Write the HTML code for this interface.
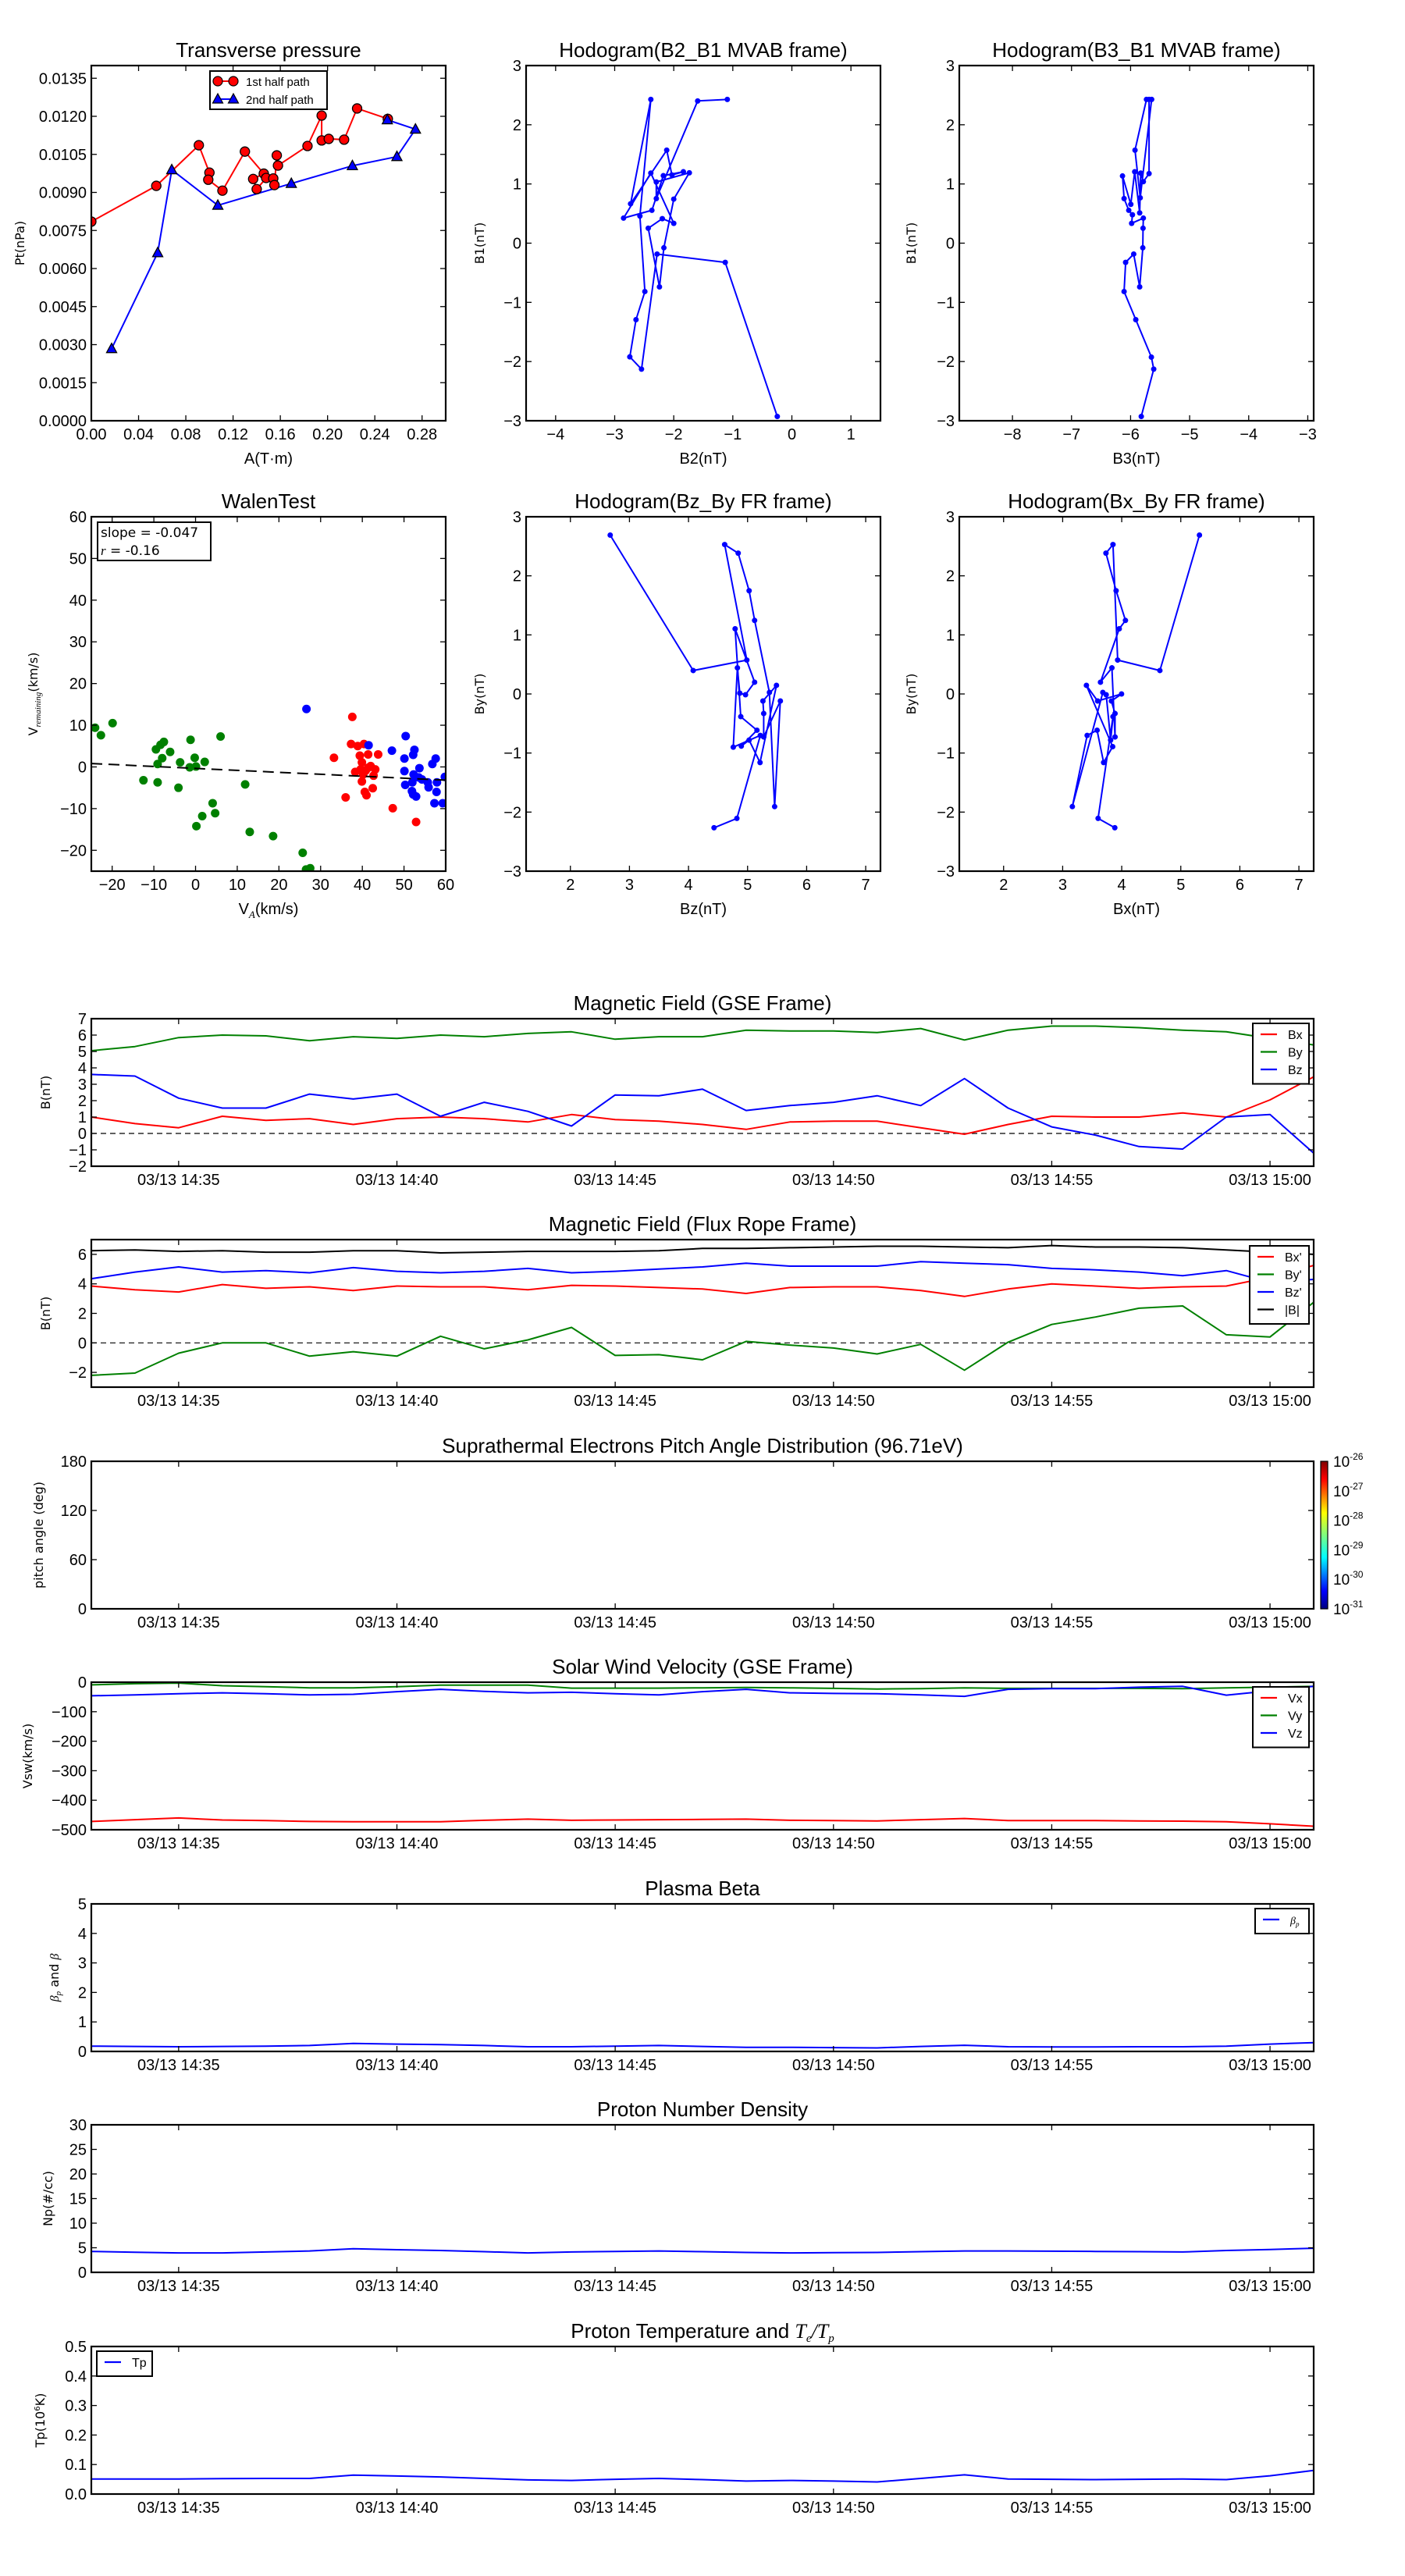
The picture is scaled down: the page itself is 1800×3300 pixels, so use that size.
<!DOCTYPE html>
<html><head><meta charset="utf-8"><title>Flux rope analysis</title>
<style>
html,body{margin:0;padding:0;background:#fff;}
svg{display:block;}
.nar{font-family:"Liberation Sans Narrow","Liberation Sans",sans-serif;}
.reg{font-family:"DejaVu Sans","Liberation Sans",sans-serif;}
</style></head>
<body>
<svg id="fig" xmlns="http://www.w3.org/2000/svg" width="1800" height="3300" viewBox="0 0 1800 3300">
<rect x="0" y="0" width="1800" height="3300" fill="#fff"/>
<defs>
<linearGradient id="jet" x1="0" y1="1" x2="0" y2="0">
<stop offset="0" stop-color="#00007f"/><stop offset="0.12" stop-color="#0000ff"/><stop offset="0.35" stop-color="#00ffff"/><stop offset="0.5" stop-color="#7fff7f"/><stop offset="0.65" stop-color="#ffff00"/><stop offset="0.88" stop-color="#ff0000"/><stop offset="1" stop-color="#7f0000"/>
</linearGradient>
</defs>
</svg>
<script>
// ---------- Transverse pressure ----------
const ptRedA = [0.000,0.055,0.091,0.100,0.099,0.111,0.130,0.146,0.137,0.140,0.148,0.154,0.155,0.157,0.158,0.183,0.195,0.195,0.201,0.214,0.225,0.251];
const ptRedP = [0.00785,0.00926,0.01086,0.00978,0.00950,0.00907,0.01061,0.00974,0.00953,0.00913,0.00957,0.00955,0.00929,0.01046,0.01006,0.01083,0.01203,0.01105,0.01111,0.01108,0.01231,0.01190];
const ptBlueA = [0.0172,0.0562,0.0681,0.1071,0.1693,0.2210,0.2587,0.2744,0.2506];
const ptBlueP = [0.00284,0.00662,0.00989,0.00849,0.00935,0.01005,0.01041,0.01149,0.01186];
const ptXTicks = [0,0.04,0.08,0.12,0.16,0.20,0.24,0.28];
const ptXLabels = ["0.00","0.04","0.08","0.12","0.16","0.20","0.24","0.28"];
const ptYTicks = [0,0.0015,0.003,0.0045,0.006,0.0075,0.009,0.0105,0.012,0.0135];
const ptYLabels = ["0.0000","0.0015","0.0030","0.0045","0.0060","0.0075","0.0090","0.0105","0.0120","0.0135"];
// ---------- Hodogram B2-B1 ----------
const h1B2 = [-0.247,-1.128,-2.282,-2.546,-2.744,-2.639,-2.489,-2.573,-2.388,-2.731,-2.119,-2.031,-1.837,-2.176,-2.370,-2.850,-2.388,-2.000,-2.194,-2.432,-2.242,-2.167,-2.000,-1.736,-2.295,-2.295,-1.595,-1.093];
const h1B1 = [-2.928,-0.325,-0.184,-2.128,-1.921,-1.292,-0.817,0.458,2.428,0.665,1.571,1.153,1.206,1.140,0.555,0.423,1.184,0.335,0.414,0.252,-0.738,-0.078,0.744,1.188,1.034,0.753,2.402,2.428];
// ---------- Hodogram B3-B1 ----------
const h2B3 = [-5.819,-5.608,-5.648,-5.912,-6.110,-6.084,-5.947,-5.846,-5.793,-5.789,-5.784,-5.982,-5.969,-6.031,-6.110,-6.137,-5.996,-5.930,-5.846,-5.828,-5.784,-5.687,-5.687,-5.731,-5.925,-5.837,-5.643];
const h2B1 = [-2.928,-2.128,-1.925,-1.292,-0.817,-0.325,-0.184,-0.738,-0.078,0.252,0.423,0.335,0.480,0.555,0.753,1.135,0.656,1.206,0.511,1.184,1.039,1.175,2.428,2.428,1.571,0.766,2.428];
// ---------- Walen test ----------
const walGreenX = [-24.1,-22.7,-19.9,-12.5,-9.5,-9.1,-9.1,-8.4,-7.6,-8.0,-6.1,-4.1,-3.7,-1.4,-1.2,-0.2,0.1,0.2,1.6,2.2,4.1,4.7,6.0,11.9,13.0,18.6,25.7,26.5,27.5];
const walGreenY = [9.4,7.6,10.5,-3.2,4.2,0.7,-3.7,5.3,6.0,2.1,3.6,-5.0,1.1,-0.1,6.5,2.2,0.1,-14.2,-11.8,1.2,-8.7,-11.1,7.3,-4.2,-15.6,-16.6,-20.6,-24.6,-24.3];
const walRedX = [37.6,37.3,38.9,40.4,33.2,39.4,41.4,43.8,39.9,42.0,43.1,38.3,40.8,40.2,42.7,39.9,42.5,40.6,41.0,36.0,47.3,52.9,41.4,39.6];
const walRedY = [12.0,5.5,5.0,5.5,2.2,2.7,3.0,3.0,1.1,0.2,-0.6,-1.2,-0.9,-1.8,-2.1,-3.5,-5.1,-6.0,-6.8,-7.3,-9.9,-13.2,-0.2,-0.6];
const walBlueX = [26.6,41.5,47.1,50.4,50.1,52.5,52.2,57.6,56.8,53.7,50.1,52.3,53.5,54.3,52.0,50.3,55.7,57.9,59.8,55.9,57.8,51.9,52.2,52.9,57.3,59.3];
const walBlueY = [13.9,5.2,3.9,7.4,2.0,4.1,2.9,2.0,0.7,-0.3,-1.0,-1.8,-2.5,-3.0,-3.7,-4.3,-3.7,-3.7,-2.4,-4.9,-6.0,-5.8,-6.6,-7.1,-8.7,-8.7];
const walSlope = [-0.047];
const walIntercept = [-0.35];
const walXTicks = [-20,-10,0,10,20,30,40,50,60];
const walXLabels = ["\u221220","\u221210","0","10","20","30","40","50","60"];
const walYTicks = [-20,-10,0,10,20,30,40,50,60];
const walYLabels = ["\u221220","\u221210","0","10","20","30","40","50","60"];
// ---------- Hodogram Bz-By ----------
const h3Bz = [2.674,4.079,4.987,4.612,4.841,5.026,5.119,5.370,5.458,5.555,5.273,5.273,5.260,5.489,5.211,5.026,4.894,5.159,4.885,4.789,5.119,4.965,4.868,4.828,4.758,5.216,4.819,4.432];
const h3By = [2.689,0.397,0.574,2.530,2.384,1.748,1.245,0.026,-1.907,-0.119,-0.728,-0.331,-0.119,0.146,-1.161,-0.781,-0.883,-0.614,-0.384,1.104,0.199,-0.013,0.013,0.442,-0.901,-0.702,-2.106,-2.265];
// ---------- Hodogram Bx-By ----------
const h4Bx = [5.316,4.646,3.931,3.852,3.733,3.905,4.063,3.958,3.640,3.834,3.887,3.887,3.825,3.997,3.592,3.402,3.847,3.693,3.583,3.415,3.164,3.680,3.737,3.812,3.852,3.600,3.883];
const h4By = [2.689,0.397,0.574,2.530,2.384,1.748,1.245,1.104,0.199,0.442,-0.728,-0.331,-0.119,0.000,-0.119,0.146,-0.892,-1.161,-0.614,-0.702,-1.907,0.026,-0.013,-0.781,-0.384,-2.106,-2.265];
// ---------- Time series ----------
const times = ["14:33","14:34","14:35","14:36","14:37","14:38","14:39","14:40","14:41","14:42","14:43","14:44","14:45","14:46","14:47","14:48","14:49","14:50","14:51","14:52","14:53","14:54","14:55","14:56","14:57","14:58","14:59","15:00","15:01"];
const timeTicks = ["14:35","14:40","14:45","14:50","14:55","15:00"];
const timeTickLabels = ["03/13 14:35","03/13 14:40","03/13 14:45","03/13 14:50","03/13 14:55","03/13 15:00"];
const gseBx = [1.0,0.6,0.35,1.05,0.8,0.9,0.55,0.9,1.0,0.9,0.7,1.15,0.85,0.75,0.55,0.25,0.7,0.75,0.75,0.35,-0.05,0.55,1.05,1.0,1.0,1.25,1.0,2.05,3.45];
const gseBy = [5.05,5.3,5.85,6.0,5.95,5.65,5.9,5.8,6.0,5.9,6.1,6.2,5.75,5.9,5.9,6.3,6.25,6.25,6.15,6.4,5.7,6.3,6.55,6.55,6.45,6.3,6.2,5.8,5.4];
const gseBz = [3.6,3.5,2.15,1.55,1.55,2.4,2.1,2.4,1.05,1.9,1.35,0.45,2.35,2.3,2.7,1.4,1.7,1.9,2.3,1.7,3.35,1.55,0.4,-0.1,-0.8,-0.95,1.0,1.15,-1.2];
const frBx = [3.85,3.6,3.45,3.95,3.7,3.8,3.55,3.85,3.8,3.8,3.6,3.9,3.85,3.75,3.65,3.35,3.75,3.8,3.8,3.55,3.15,3.65,4.0,3.85,3.7,3.8,3.85,4.45,5.25];
const frBy = [-2.2,-2.05,-0.7,0,0,-0.9,-0.6,-0.9,0.45,-0.4,0.2,1.05,-0.85,-0.8,-1.15,0.1,-0.15,-0.35,-0.75,-0.1,-1.85,0.05,1.25,1.75,2.35,2.5,0.55,0.4,2.75];
const frBz = [4.35,4.8,5.15,4.8,4.9,4.75,5.1,4.85,4.75,4.85,5.05,4.75,4.85,5.0,5.15,5.4,5.2,5.2,5.2,5.5,5.4,5.3,5.05,4.95,4.8,4.55,4.9,4.1,4.3];
const frBt = [6.25,6.3,6.2,6.25,6.15,6.15,6.25,6.25,6.1,6.15,6.2,6.2,6.2,6.25,6.4,6.4,6.45,6.5,6.55,6.55,6.5,6.45,6.6,6.5,6.5,6.45,6.3,6.15,6.0];
const velVx = [-472,-466,-460,-467,-469,-472,-473,-473,-473,-468,-464,-468,-467,-466,-465,-464,-468,-469,-470,-466,-462,-469,-469,-469,-470,-471,-473,-480,-488];
const velVy = [-9,-5,-3,-12,-15,-19,-19,-15,-10,-10,-10,-20,-20,-20,-19,-18,-19,-21,-23,-22,-19,-21,-21,-21,-21,-22,-19,-17,-14];
const velVz = [-46,-43,-39,-36,-39,-43,-41,-32,-24,-31,-36,-34,-39,-43,-32,-24,-36,-38,-39,-43,-48,-24,-22,-22,-17,-14,-44,-29,-14];
const betaP = [0.18,0.17,0.16,0.17,0.18,0.2,0.27,0.25,0.23,0.2,0.16,0.16,0.18,0.2,0.17,0.14,0.14,0.13,0.12,0.17,0.21,0.16,0.15,0.15,0.16,0.16,0.18,0.25,0.3];
const densNp = [4.25,4.1,3.95,3.95,4.15,4.35,4.8,4.6,4.45,4.2,3.95,4.15,4.25,4.35,4.2,4.05,3.95,4.0,4.05,4.2,4.35,4.35,4.3,4.25,4.2,4.15,4.45,4.65,4.9];
const tempTp = [0.051,0.051,0.051,0.052,0.053,0.053,0.064,0.061,0.058,0.053,0.048,0.046,0.05,0.053,0.049,0.044,0.046,0.044,0.041,0.053,0.065,0.051,0.05,0.049,0.05,0.051,0.049,0.062,0.08];
const cbExponents = ["-26","-27","-28","-29","-30","-31"];

const NS = 'http://www.w3.org/2000/svg';
const svg = document.getElementById('fig');
function mk(tag, attrs, parent) {
  const e = document.createElementNS(NS, tag);
  for (const k in attrs) e.setAttribute(k, attrs[k]);
  (parent || svg).appendChild(e);
  return e;
}
function tmin(s) { const p = s.split(':'); return (+p[0]) * 60 + (+p[1]); }
let clipN = 0;

function panel(p) {
  const g = mk('g', {});
  
  
  const sx = v => p.x0 + (v - p.xmin) / (p.xmax - p.xmin) * p.w;
  const sy = v => p.y0 + p.h - (v - p.ymin) / (p.ymax - p.ymin) * p.h;
  const cid = 'clip' + (clipN++);
  const cp = mk('clipPath', { id: cid }, g);
  mk('rect', { x: p.x0, y: p.y0, width: p.w, height: p.h }, cp);
  const data = mk('g', { 'clip-path': 'url(#' + cid + ')' }, g);
  
  
  // title
  const t = mk('text', { x: p.x0 + p.w / 2, y: p.y0 - 11, 'text-anchor': 'middle', 'font-size': 26, class: 'nar' }, g);
  t.innerHTML = p.title;
  
  
  const ticks = mk('g', { stroke: '#000', 'stroke-width': 1.3 }, g);
  
  
  const xl = mk('g', { 'font-size': 20, class: 'nar', 'text-anchor': 'middle' }, g);
  
  
  p.xticks.forEach((v, i) => {
    const x = sx(v);
    mk('line', { x1: x, x2: x, y1: p.y0 + p.h, y2: p.y0 + p.h - 7 }, ticks);
    mk('line', { x1: x, x2: x, y1: p.y0, y2: p.y0 + 7 }, ticks);
    const lt = mk('text', { x: x, y: p.y0 + p.h + 24 }, xl);
    lt.textContent = p.xlabels[i];
  });
  const yl = mk('g', { 'font-size': 20, class: 'nar', 'text-anchor': 'end' }, g);
  
  
  p.yticks.forEach((v, i) => {
    const y = sy(v);
    mk('line', { x1: p.x0, x2: p.x0 + 7, y1: y, y2: y }, ticks);
    mk('line', { x1: p.x0 + p.w, x2: p.x0 + p.w - 7, y1: y, y2: y }, ticks);
    const lt = mk('text', { x: p.x0 - 6, y: y + 7 }, yl);
    lt.textContent = p.ylabels[i];
  });
  if (p.xlabel) {
    const xt = mk('text', { x: p.x0 + p.w / 2, y: p.y0 + p.h + 55, 'text-anchor': 'middle', 'font-size': 20, class: 'nar' }, g);
    xt.innerHTML = p.xlabel;
    
    
  }
  if (p.ylabel) {
    const cy = p.y0 + p.h / 2;
    const yt = mk('text', { x: p.ylx, y: cy, 'text-anchor': 'middle', 'font-size': 16, class: 'reg', transform: 'rotate(-90 ' + p.ylx + ' ' + cy + ')' }, g);
    yt.innerHTML = p.ylabel;
    
    
  }
  return { g, data, sx, sy, p, frame: function () {
    const fr = mk('rect', { x: p.x0, y: p.y0, width: p.w, height: p.h, fill: 'none', stroke: '#000', 'stroke-width': 2.2 }, g);
    
    
  } };
}
function line(ax, xs, ys, color, nm, width) {
  const pts = xs.map((x, i) => ax.sx(x).toFixed(1) + ',' + ax.sy(ys[i]).toFixed(1)).join(' ');
  const pl = mk('polyline', { points: pts, fill: 'none', stroke: color, 'stroke-width': width || 2, 'stroke-linejoin': 'round' }, ax.data);
  
  
  return pl;
}
function dots(ax, xs, ys, color, r, nm, stroke) {
  const gg = mk('g', { fill: color, stroke: stroke || 'none', 'stroke-width': 1.3 }, ax.data);
  
  
  xs.forEach((x, i) => {
    const c = mk('circle', { cx: ax.sx(x), cy: ax.sy(ys[i]), r: r }, gg);
    
    
  });
}
function tris(ax, xs, ys, color, nm) {
  const gg = mk('g', { fill: color, stroke: '#000', 'stroke-width': 1.3 }, ax.data);
  
  
  xs.forEach((x, i) => {
    const cx = ax.sx(x), cy = ax.sy(ys[i]);
    const t = mk('polygon', { points: (cx) + ',' + (cy - 7) + ' ' + (cx - 6.5) + ',' + (cy + 5) + ' ' + (cx + 6.5) + ',' + (cy + 5) }, gg);
    
    
  });
}
const M = '<tspan font-family="DejaVu Sans" font-size="18">\u2212</tspan>';

// ----- Transverse pressure -----
let ax = panel({ name: 'transverse-pressure-chart', x0: 117, y0: 84, w: 454, h: 455, xmin: 0, xmax: 0.30, ymin: 0, ymax: 0.014,
  xticks: ptXTicks, xlabels: ptXLabels, yticks: ptYTicks, ylabels: ptYLabels, title: 'Transverse pressure', xlabel: 'A(T\u00b7m)', ylabel: 'Pt(nPa)', ylx: 31 });
line(ax, ptRedA, ptRedP, '#ff0000', 'first-half-path-line');
line(ax, ptBlueA, ptBlueP, '#0000ff', 'second-half-path-line');
dots(ax, ptRedA, ptRedP, '#ff0000', 6, 'first-half-path-markers', '#000');
tris(ax, ptBlueA, ptBlueP, '#0000ff', 'second-half-path-markers');
ax.frame();
{
  const lg = mk('g', {}, ax.g);
  
  
  mk('rect', { x: 269, y: 91, width: 150, height: 49, fill: '#fff', stroke: '#000', 'stroke-width': 2 }, lg);
  mk('line', { x1: 279, x2: 299, y1: 104, y2: 104, stroke: '#ff0000', 'stroke-width': 2 }, lg);
  mk('circle', { cx: 279, cy: 104, r: 6, fill: '#ff0000', stroke: '#000', 'stroke-width': 1.2 }, lg);
  mk('circle', { cx: 299, cy: 104, r: 6, fill: '#ff0000', stroke: '#000', 'stroke-width': 1.2 }, lg);
  const t1 = mk('text', { x: 315, y: 110, 'font-size': 15, class: 'nar' }, lg);
  t1.textContent = '1st half path';
  
  
  mk('line', { x1: 279, x2: 299, y1: 127, y2: 127, stroke: '#0000ff', 'stroke-width': 2 }, lg);
  mk('polygon', { points: '279,120 272.5,132 285.5,132', fill: '#0000ff', stroke: '#000', 'stroke-width': 1.2 }, lg);
  mk('polygon', { points: '299,120 292.5,132 305.5,132', fill: '#0000ff', stroke: '#000', 'stroke-width': 1.2 }, lg);
  const t2 = mk('text', { x: 315, y: 133, 'font-size': 15, class: 'nar' }, lg);
  t2.textContent = '2nd half path';
  
  
}

// ----- Hodogram B2-B1 -----
const b1Ticks = [-3,-2,-1,0,1,2,3];
const b1Labels = b1Ticks.map(v => v < 0 ? '\u2212' + (-v) : '' + v);
ax = panel({ name: 'hodogram-b2-b1-chart', x0: 674, y0: 84, w: 454, h: 455, xmin: -4.5, xmax: 1.5, ymin: -3, ymax: 3,
  xticks: [-4,-3,-2,-1,0,1], xlabels: ['\u22124','\u22123','\u22122','\u22121','0','1'], yticks: b1Ticks, ylabels: b1Labels,
  title: 'Hodogram(B2_B1 MVAB frame)', xlabel: 'B2(nT)', ylabel: 'B1(nT)', ylx: 620 });
line(ax, h1B2, h1B1, '#0000ff', 'hodogram-path');
dots(ax, h1B2, h1B1, '#0000ff', 3.5, 'hodogram-markers');
ax.frame();

// ----- Hodogram B3-B1 -----
ax = panel({ name: 'hodogram-b3-b1-chart', x0: 1229, y0: 84, w: 454, h: 455, xmin: -8.9, xmax: -2.9, ymin: -3, ymax: 3,
  xticks: [-8,-7,-6,-5,-4,-3], xlabels: ['\u22128','\u22127','\u22126','\u22125','\u22124','\u22123'], yticks: b1Ticks, ylabels: b1Labels,
  title: 'Hodogram(B3_B1 MVAB frame)', xlabel: 'B3(nT)', ylabel: 'B1(nT)', ylx: 1173 });
line(ax, h2B3, h2B1, '#0000ff', 'hodogram-path');
dots(ax, h2B3, h2B1, '#0000ff', 3.5, 'hodogram-markers');
ax.frame();

// ----- Walen test -----
ax = panel({ name: 'walen-test-chart', x0: 117, y0: 662, w: 454, h: 454, xmin: -25, xmax: 60, ymin: -25, ymax: 60,
  xticks: walXTicks, xlabels: walXLabels, yticks: walYTicks, ylabels: walYLabels, title: 'WalenTest',
  xlabel: 'V<tspan font-size="13" dy="5" font-style="italic" font-family="Liberation Serif">A</tspan><tspan dy="-5">(km/s)</tspan>',
  ylabel: 'V<tspan font-size="11" dy="4" font-style="italic" font-family="Liberation Serif">remaining</tspan><tspan dy="-4">(km/s)</tspan>', ylx: 48 });
dots(ax, walGreenX, walGreenY, '#008000', 5.5, 'walen-green-points');
dots(ax, walRedX, walRedY, '#ff0000', 5.5, 'walen-red-points');
dots(ax, walBlueX, walBlueY, '#0000ff', 5.5, 'walen-blue-points');
{
  const fx = [-25, 60];
  const fy = fx.map(x => walIntercept[0] + walSlope[0] * x);
  const fl = line(ax, fx, fy, '#000', 'fit-line');
  fl.setAttribute('stroke-dasharray', '14,8');
}
ax.frame();
{
  const bx = mk('g', {}, ax.g);
  
  
  mk('rect', { x: 125, y: 669, width: 145, height: 49, fill: '#fff', stroke: '#000', 'stroke-width': 2 }, bx);
  const s1 = mk('text', { x: 129, y: 688, 'font-size': 17, class: 'reg' }, bx);
  s1.textContent = 'slope = -0.047';
  const s2 = mk('text', { x: 129, y: 711, 'font-size': 17, class: 'reg' }, bx);
  s2.innerHTML = '<tspan font-family="Liberation Serif" font-style="italic">r</tspan> = -0.16';
}

// ----- Hodogram Bz-By -----
const byTicks = [-3,-2,-1,0,1,2,3];
ax = panel({ name: 'hodogram-bz-by-chart', x0: 674, y0: 662, w: 454, h: 454, xmin: 1.25, xmax: 7.25, ymin: -3, ymax: 3,
  xticks: [2,3,4,5,6,7], xlabels: ['2','3','4','5','6','7'], yticks: byTicks, ylabels: b1Labels,
  title: 'Hodogram(Bz_By FR frame)', xlabel: 'Bz(nT)', ylabel: 'By(nT)', ylx: 620 });
line(ax, h3Bz, h3By, '#0000ff', 'hodogram-path');
dots(ax, h3Bz, h3By, '#0000ff', 3.5, 'hodogram-markers');
ax.frame();

// ----- Hodogram Bx-By -----
ax = panel({ name: 'hodogram-bx-by-chart', x0: 1229, y0: 662, w: 454, h: 454, xmin: 1.25, xmax: 7.25, ymin: -3, ymax: 3,
  xticks: [2,3,4,5,6,7], xlabels: ['2','3','4','5','6','7'], yticks: byTicks, ylabels: b1Labels,
  title: 'Hodogram(Bx_By FR frame)', xlabel: 'Bx(nT)', ylabel: 'By(nT)', ylx: 1173 });
line(ax, h4Bx, h4By, '#0000ff', 'hodogram-path');
dots(ax, h4Bx, h4By, '#0000ff', 3.5, 'hodogram-markers');
ax.frame();

// ----- time series panels -----
const T = times.map(tmin);
const tTicks = timeTicks.map(tmin);
function tsPanel(name, top, ymin, ymax, yticks, ylabels, title, ylabel, ylx) {
  return panel({ name: name, x0: 117, y0: top, w: 1566, h: 189, xmin: tmin('14:33'), xmax: tmin('15:01'), ymin: ymin, ymax: ymax,
    xticks: tTicks, xlabels: timeTickLabels, yticks: yticks, ylabels: ylabels, title: title, ylabel: ylabel, ylx: ylx });
}
function zeroLine(a) {
  const z = mk('line', { x1: a.p.x0, x2: a.p.x0 + a.p.w, y1: a.sy(0), y2: a.sy(0), stroke: '#000', 'stroke-width': 1.2, 'stroke-dasharray': '7,5' }, a.data);
  
  
}
function legend(a, x, y, w, rowH, entries) {
  const lg = mk('g', {}, a.g);
  
  
  mk('rect', { x: x, y: y, width: w, height: rowH * entries.length + 10, fill: '#fff', stroke: '#000', 'stroke-width': 2 }, lg);
  entries.forEach((e, i) => {
    const cy = y + 14 + i * rowH;
    mk('line', { x1: x + 10, x2: x + 31, y1: cy, y2: cy, stroke: e[1], 'stroke-width': 2.2 }, lg);
    const t = mk('text', { x: x + 45, y: cy + 6, 'font-size': 16, class: 'nar' }, lg);
    t.innerHTML = e[0];
    
    
  });
}
const lbl = arr => arr.map(v => v < 0 ? '\u2212' + (-v) : '' + v);

// GSE
ax = tsPanel('magnetic-field-gse-chart', 1305, -2, 7, [-2,-1,0,1,2,3,4,5,6,7], lbl([-2,-1,0,1,2,3,4,5,6,7]), 'Magnetic Field (GSE Frame)', 'B(nT)', 64);
zeroLine(ax);
line(ax, T, gseBx, '#ff0000', 'bx-line');
line(ax, T, gseBy, '#008000', 'by-line');
line(ax, T, gseBz, '#0000ff', 'bz-line');
ax.frame();
legend(ax, 1605, 1311, 72, 22.5, [['Bx', '#ff0000'], ['By', '#008000'], ['Bz', '#0000ff']]);

// Flux rope
ax = tsPanel('magnetic-field-flux-rope-chart', 1588, -3, 7, [-2,0,2,4,6], lbl([-2,0,2,4,6]), 'Magnetic Field (Flux Rope Frame)', 'B(nT)', 64);
zeroLine(ax);
line(ax, T, frBx, '#ff0000', 'bx-prime-line');
line(ax, T, frBy, '#008000', 'by-prime-line');
line(ax, T, frBz, '#0000ff', 'bz-prime-line');
line(ax, T, frBt, '#000000', 'b-magnitude-line');
ax.frame();
legend(ax, 1601, 1596, 76, 22.5, [["Bx'", '#ff0000'], ["By'", '#008000'], ["Bz'", '#0000ff'], ['|B|', '#000']]);

// PAD
ax = tsPanel('pitch-angle-distribution-chart', 1872, 0, 180, [0,60,120,180], ['0','60','120','180'], 'Suprathermal Electrons Pitch Angle Distribution (96.71eV)', 'pitch angle (deg)', 55);
ax.frame();
{
  const cb = mk('g', {});
  
  
  mk('rect', { x: 1692, y: 1872, width: 9, height: 189, fill: 'url(#jet)', stroke: '#000', 'stroke-width': 1.2 }, cb);
  cbExponents.forEach((ex, i) => {
    const y = 1872 + i * 189 / (cbExponents.length - 1);
    const t = mk('text', { x: 1708, y: y + 7, 'font-size': 19, class: 'nar' }, cb);
    t.innerHTML = '10<tspan font-size="12" dy="-9">' + ex + '</tspan>';
    
    
  });
}

// Velocity
ax = tsPanel('solar-wind-velocity-chart', 2155, -500, 0, [-500,-400,-300,-200,-100,0], lbl([-500,-400,-300,-200,-100,0]), 'Solar Wind Velocity (GSE Frame)', 'Vsw(km/s)', 41);
line(ax, T, velVx, '#ff0000', 'vx-line');
line(ax, T, velVy, '#008000', 'vy-line');
line(ax, T, velVz, '#0000ff', 'vz-line');
ax.frame();
legend(ax, 1605, 2161, 72, 22.5, [['Vx', '#ff0000'], ['Vy', '#008000'], ['Vz', '#0000ff']]);

// Beta
ax = tsPanel('plasma-beta-chart', 2439, 0, 5, [0,1,2,3,4,5], ['0','1','2','3','4','5'], 'Plasma Beta',
  '<tspan font-family="Liberation Serif" font-style="italic">\u03b2<tspan font-size="11" dy="3">p</tspan></tspan><tspan dy="-3"> and </tspan><tspan font-family="Liberation Serif" font-style="italic">\u03b2</tspan>', 75);
line(ax, T, betaP, '#0000ff', 'beta-p-line');
ax.frame();
legend(ax, 1608, 2445, 69, 22, [['<tspan font-family="Liberation Serif" font-style="italic" font-size="14">\u03b2<tspan font-size="9" dy="3">p</tspan></tspan>', '#0000ff']]);

// Density
ax = tsPanel('proton-density-chart', 2722, 0, 30, [0,5,10,15,20,25,30], ['0','5','10','15','20','25','30'], 'Proton Number Density', 'Np(#/cc)', 67);
line(ax, T, densNp, '#0000ff', 'np-line');
ax.frame();

// Temperature
ax = tsPanel('proton-temperature-chart', 3006, 0, 0.5, [0,0.1,0.2,0.3,0.4,0.5], ['0.0','0.1','0.2','0.3','0.4','0.5'],
  'Proton Temperature and <tspan font-family="Liberation Serif" font-style="italic">T<tspan font-size="15" dy="5">e</tspan><tspan dy="-5">/T</tspan><tspan font-size="15" dy="5">p</tspan></tspan>',
  'Tp(10<tspan font-size="10" dy="-6">6</tspan><tspan dy="6">K)</tspan>', 57);
line(ax, T, tempTp, '#0000ff', 'tp-line');
ax.frame();
legend(ax, 124, 3012, 71, 22, [['Tp', '#0000ff']]);
</script>
</body></html>
